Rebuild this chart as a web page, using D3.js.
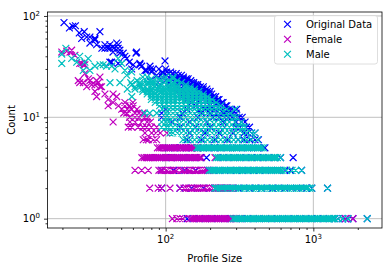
<!DOCTYPE html>
<html><head><meta charset="utf-8">
<script src="https://cdn.jsdelivr.net/npm/d3@7"></script>
<style>
body{margin:0;background:#fff}
svg{display:block}
text{font-family:"DejaVu Sans",sans-serif;fill:#000}
</style>
</head><body><div id="chart"></div>
<script>
// ---------- data (count, [profile sizes]) ----------
const seriesNames = ["Original Data", "Female", "Male"];
const seriesColors = ["#0000ff", "#bf00bf", "#00bfbf"];
const xMajorTicks = [100, 1000];
const yMajorTicks = [1, 10, 100];
const xTickExp = ["2", "3"];
const yTickExp = ["0", "1", "2"];
const xMinorTicks = [20,30,40,50,60,70,80,90,200,300,400,500,600,700,800,900,2000];
const yMinorTicks = [0.9,2,3,4,5,6,7,8,9,20,30,40,50,60,70,80,90];

const originalRows = [
  [86,[20.5]],[80,[24.5]],[79,[23.5]],[76,[22.3]],[70,[28.1,35.9]],[68,[26]],[62,[29.2,30.7]],
  [60,[27,33.2]],[58,[33.2]],[54,[30.7,46.6]],[52,[34.1,38.8,41.9,47.8]],[50,[44]],
  [48,[37,38.8,40.5,41.9,44.5,47.7]],[46,[49]],[44,[63.6,44]],[43,[51.6,63,49]],[40,[53]],
  [38,[54.5]],[36,[99]],[35,[41.9,43,56.7]],[34,[47.7,67]],[33,[60.3,67]],[32,[68.8,78.3]],
  [30,[58.9,79,82.4,90,100]],[29,[72.4,74.3]],[28,[80.4,95,101.6,108]],[27,[95,105,112,118]],
  [26,[86.9,102,108,115,122,128]],[25,[95,110,120,125,132]],[24,[98,112,118,125,128,132,138,142]],
  [23,[78.3,91.5,100,115,125,135,140,148]],[22,[105,116,125,132,139,145,150,155]],
  [21,[91.5,110,120,135,146,150,155,160,165]],[20,[90,105,120,137,150,157,165,172,180]],
  [19,[112,125,139,150,158,168,175,180,190]],[18,[120,135,150,165,170,180,185,192,200]],
  [17,[125,140,155,171,180,190,198,205]],[16,[130,150,160,171,185,190,200,210,218]],
  [15,[140,160,170,180,190,200,215,225,230]],[14,[150,170,180,190,200,210,225,240,245]],
  [13,[160,180,199,210,220,230,240,255,260]],
  [12,[100,140,170,185,199,215,230,245,260,270,280,303]],[11,[94,130,175,200,220,233,245,252,260,275,285,300]],
  [10,[94,125,165,210,230,250,265,280,290,303,315,330]],[9,[110,145,190,245,300,326,345]],
  [8,[125,160,200,250,300,320,353,370]],[7,[145,185,230,285,340,360,382,403]],
  [6,[140,175,215,262,310,340,372,403,425]],[5,[105,126,150,180,215,260,303,360,420,470]],
  [4,[100,120,144,172,189,245,290,350,420,500,600,730]],
  [3,[94,113,135,160,193,230,275,330,395,475,570,643,700,833]],
  [2,[94,125,150,180,216,260,310,370,445,530,640,770,900,976,1248]],
  [1,[140,170,205,250,300,360,430,520,620,740,890,1070,1280,1400,1473,1584,1650,1716,1854,2317]]
];

const femaleRows = [
  [46,[23.1]],[45,[21.4]],[44,[19.8,22.5]],[41,[24.3]],[34,[26.2,27]],[33,[27.7,28.4]],
  [27,[28.4]],[25,[35.9]],[24,[30]],[23,[25.6,30.7,34.1]],[22,[26.2,27.7,35]],
  [21,[31.6,33.2]],[20,[29.2,35.9,36.8]],[18,[33.2]],[17,[38.8,44.1]],[16,[34.1,46.6]],
  [15,[40.8]],[14,[44.1,53,60]],[13,[40.8,48,53,57,60.3]],[12,[50.4,55,58.9,64]],
  [11,[52,54.5,62,66,70]],[10,[57,62,66,72,76]],[9,[44.1,57.3,62,68.8,75,79]],
  [8,[55.8,58.9,65.2,70,74.3,80,86.9]],[7,[72.4,80.4,86,92,101.6]],
  [6,[70.5,74,76.3,82.4,86.9]],
  [5,[88,91,94,98,101,105,108,112,116,120,124,129,133,138,143,148,153,158,164]],
  [4,[69,71.5,74,76.5,79,82,85,88,91,94,97,101,104,108,112,116,120,124,128,133,137,142,147,152,158,163,169,175,216]],
  [3,[62,68.8,76.3,90,93,96,100,103,107,111,115,119,128,132,137,141,146,151,157,162,168,174,180,186,192,199]],
  [2,[78,89,94,107,125,133,138,143,148,153,158,164,170,176,182,188,195,201,208,216,223,231,239,248,256,265,275,286]],
  [1,[111,119,125,131,146,151,156,162,167,173,179,185,192,199,206,213,220,228,236,244,253,262,271,280,290,300,318,1650,1854]]
];

const maleRows = [
  [48,[21.1]],[42,[19.8]],[40,[26.2]],[38,[23.1,29.9,47.7]],[35,[25,28.4]],[34,[19.8,50.4]],
  [33,[35.9,37.8]],[32,[33.2,39.8,43.1]],[30,[45.4]],[29,[27.7,30.7,53]],[28,[58.9]],
  [26,[54.5]],[25,[70,75,100,112]],[24,[80,90,98,112]],[23,[64,74,82,91,105,120]],
  [22,[42,49,58,67,75,82,98,112,128]],[21,[59,67,75,82,91,105,112,120,137]],
  [20,[62,67,73,80,85,91,98,105,112,120,137,147]],
  [19,[55,62,70,75,80,87,93,98,105,112,120,128,137,147,157]],
  [18,[70,75,80,87,93,98,105,112,120,128,137,147,157,168]],
  [17,[75,80,85,91,98,105,112,120,128,137,147,157,168,180]],
  [16,[59,80,85,91,98,105,112,120,128,137,147,157,168,180,192]],
  [15,[80,85,91,98,105,112,120,128,137,147,157,168,180,192,206]],
  [14,[85,91,98,105,112,120,128,137,147,157,168,180,192,206,220]],
  [13,[91,98,105,112,120,128,137,147,157,168,180,192,206,220,236]],
  [12,[95,105,112,120,128,137,147,157,168,180,192,206,220,236,259,295]],
  [11,[72,78,87,100,105,112,120,128,137,147,157,168,180,192,206,220,236,259,275]],
  [10,[100,105,112,120,128,137,147,157,168,180,192,206,220,236,252,270,289,303]],
  [9,[94,100,105,112,120,128,137,147,157,168,180,192,206,220,236,252,270,295,326]],
  [8,[94,101,105,112,120,128,137,147,157,168,180,192,206,220,236,252,270,289,309,331,345]],
  [7,[107,112,120,128,137,147,157,168,180,192,206,220,236,252,270,289,309,331,354,382,403]],
  [6,[131,137,147,157,168,180,192,206,220,236,252,270,289,309,331,354,381,420]],
  [5,[162,167,172,177,182,188,193,199,205,211,218,224,231,238,245,252,260,268,276,284,292,301,310,320,329,339,349,360,370,382,393,405,417,430,443,458]],
  [4,[221,228,235,242,249,257,265,273,281,289,298,307,316,325,335,345,356,366,377,389,400,412,425,438,451,464,478,493,507,523,538,554,571,600]],
  [3,[197,203,209,215,222,228,235,242,249,257,265,273,281,289,298,307,316,325,335,345,356,366,377,389,400,412,425,438,451,464,478,493,507,523,538,554,571,588,606,625,660,718,760,833]],
  [2,[215,221,228,235,242,249,257,264,272,280,289,297,306,316,325,335,345,355,366,377,388,400,412,424,437,450,464,478,492,507,522,538,554,570,588,605,623,642,661,681,702,723,744,767,790,813,838,863,889,915,943,976,1248]],
  [1,[286,295,304,313,322,332,342,352,363,374,385,396,408,420,433,446,459,473,487,502,517,532,548,565,582,599,617,636,655,674,695,715,737,759,782,805,829,854,880,906,933,961,990,1020,1050,1082,1114,1148,1182,1218,1254,1292,1330,1370,1400,1473,1584,1716,2317]]
];

// ---------- chart ----------
const W = 392, H = 270;
const svg = d3.select("#chart").append("svg").attr("width", W).attr("height", H);
const x = d3.scaleLog().domain([15.85, 2917]).range([47.5, 382]);
const y = d3.scaleLog().domain([0.809, 109.4]).range([228, 12]);
const r = 3.4;

// grid
const grid = svg.append("g").attr("stroke", "#b0b0b0").attr("stroke-width", 0.8);
xMajorTicks.forEach(v => grid.append("line").attr("x1", x(v)).attr("x2", x(v)).attr("y1", 12).attr("y2", 228));
yMajorTicks.forEach(v => grid.append("line").attr("x1", 47.5).attr("x2", 382).attr("y1", y(v)).attr("y2", y(v)));

// markers
function toPoints(rows){
  const pts = [];
  rows.forEach(([count, sizes]) => sizes.forEach(s => pts.push([x(s), y(count)])));
  return pts;
}
function xMarkPath(points){
  let d = "";
  for (const [px, py] of points){
    d += `M${px-r},${py-r}L${px+r},${py+r}M${px-r},${py+r}L${px+r},${py-r}`;
  }
  return d;
}
svg.append("clipPath").attr("id","clip").append("rect")
  .attr("x",47.5).attr("y",12).attr("width",334.5).attr("height",216);
const plot = svg.append("g").attr("clip-path","url(#clip)");
[originalRows, femaleRows, maleRows].forEach((rows, i) => {
  plot.append("path").attr("d", xMarkPath(toPoints(rows)))
    .attr("fill", "none").attr("stroke", seriesColors[i]).attr("stroke-width", 1.2);
});

// axes
const xAxisG = svg.append("g").attr("transform", "translate(0,228)");
xAxisG.call(d3.axisBottom(x).tickValues(xMajorTicks).tickSize(3.5).tickFormat(""));
xAxisG.call(g => g.select(".domain").remove());
const xMinorG = svg.append("g").attr("transform", "translate(0,228)");
xMinorG.call(d3.axisBottom(x).tickValues(xMinorTicks).tickSize(2).tickFormat(""));
xMinorG.call(g => g.select(".domain").remove());
const yAxisG = svg.append("g").attr("transform", "translate(47.5,0)");
yAxisG.call(d3.axisLeft(y).tickValues(yMajorTicks).tickSize(3.5).tickFormat(""));
yAxisG.call(g => g.select(".domain").remove());
const yMinorG = svg.append("g").attr("transform", "translate(47.5,0)");
yMinorG.call(d3.axisLeft(y).tickValues(yMinorTicks).tickSize(2).tickFormat(""));
yMinorG.call(g => g.select(".domain").remove());
svg.selectAll(".tick line").attr("stroke", "#000").attr("stroke-width", 0.8);

// tick labels
xMajorTicks.forEach((v, i) => {
  const t = svg.append("text").attr("x", x(v)).attr("y", 243).attr("text-anchor", "middle").attr("font-size", 10);
  t.append("tspan").text("10");
  t.append("tspan").attr("font-size", 7).attr("dy", -4.2).text(xTickExp[i]);
});
yMajorTicks.forEach((v, i) => {
  const t = svg.append("text").attr("x", 40).attr("y", y(v) + 3.8).attr("text-anchor", "end").attr("font-size", 10);
  t.append("tspan").text("10");
  t.append("tspan").attr("font-size", 7).attr("dy", -4.2).text(yTickExp[i]);
});

// frame
svg.append("rect").attr("x", 47.5).attr("y", 12).attr("width", 334.5).attr("height", 216)
  .attr("fill", "none").attr("stroke", "#000").attr("stroke-width", 0.8);

// axis labels
svg.append("text").attr("x", 214.7).attr("y", 261.5).attr("text-anchor", "middle").attr("font-size", 10).text("Profile Size");
svg.append("text").attr("transform", "translate(14.5,120) rotate(-90)").attr("text-anchor", "middle").attr("font-size", 10).text("Count");

// legend
const lg = svg.append("g");
lg.append("rect").attr("x", 274.5).attr("y", 15.5).attr("width", 103).attr("height", 48.5).attr("rx", 2.5)
  .attr("fill", "#fff").attr("fill-opacity", 0.8).attr("stroke", "#d6d6d6").attr("stroke-width", 0.8);
seriesNames.forEach((name, i) => {
  const cy = 24.3 + i * 15;
  lg.append("path").attr("d", xMarkPath([[287.5, cy]])).attr("stroke", seriesColors[i]).attr("stroke-width", 1.2).attr("fill", "none");
  lg.append("text").attr("x", 306).attr("y", cy + 3.6).attr("font-size", 10).text(name);
});
</script>
</body></html>
